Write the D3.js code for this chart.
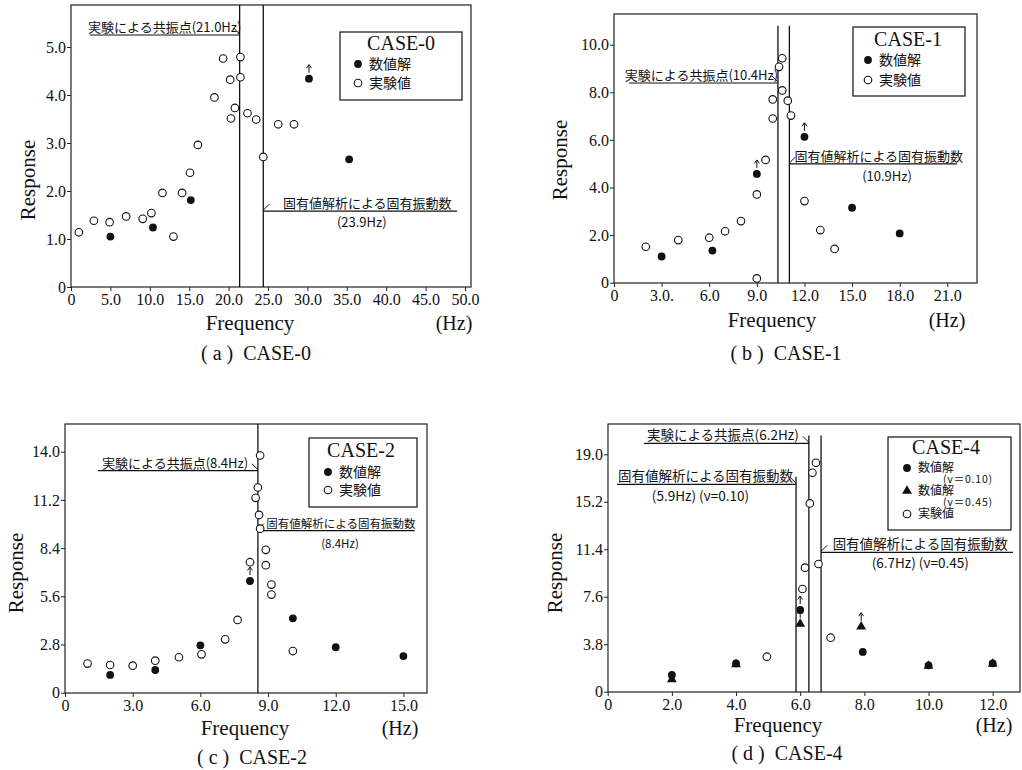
<!DOCTYPE html>
<html lang="ja">
<head>
<meta charset="UTF-8">
<title>Response vs Frequency (CASE-0/1/2/4)</title>
<script src="https://d3js.org/d3.v7.min.js"></script>
<style>
  body { margin: 0; background: #fff; }
  svg { display: block; }
  .lab { font-family: "Liberation Serif", "DejaVu Serif", serif; fill: #111; }
  .jp { font-family: "Noto Sans CJK JP", sans-serif; fill: #111; }
  .domain { display: none; }
  .tick line { stroke: #222; }
</style>
</head>
<body>
<script>
// ---- CASE-0 ----
const xTicksA = [0, 5, 10, 15, 20, 25, 30, 35, 40, 45, 50];
const xTickLabelsA = ["0", "5.0", "10.0", "15.0", "20.0", "25.0", "30.0", "35.0", "40.0", "45.0", "50.0"];
const yTicksA = [0, 1, 2, 3, 4, 5];
const yTickLabelsA = ["0", "1.0", "2.0", "3.0", "4.0", "5.0"];
const numFreqA = [5.0, 10.4, 15.2, 30.2, 35.3];
const numRespA = [1.05, 1.24, 1.81, 4.34, 2.66];
const numArrowA = [0, 0, 0, 1, 0];
const expFreqA = [1.0, 2.9, 4.9, 7.0, 9.1, 10.2, 11.6, 13.0, 14.1, 15.1, 16.1, 18.2, 19.3, 20.2, 20.3, 20.8, 21.5, 21.5, 22.4, 23.5, 24.4, 26.3, 28.3];
const expRespA = [1.14, 1.38, 1.35, 1.47, 1.42, 1.54, 1.96, 1.05, 1.96, 2.38, 2.96, 3.95, 4.76, 4.32, 3.51, 3.73, 4.79, 4.37, 3.62, 3.49, 2.71, 3.39, 3.39];
const linesA = [21.4, 24.4];

// ---- CASE-1 ----
const xTicksB = [0, 3, 6, 9, 12, 15, 18, 21];
const xTickLabelsB = ["0", "3.0.", "6.0", "9.0", "12.0", "15.0", "18.0", "21.0"];
const yTicksB = [0, 2, 4, 6, 8, 10];
const yTickLabelsB = ["0", "2.0", "4.0", "6.0", "8.0", "10.0"];
const numFreqB = [3.0, 6.2, 9.0, 12.0, 15.0, 18.0];
const numRespB = [1.1, 1.35, 4.57, 6.13, 3.15, 2.07];
const numArrowB = [0, 0, 1, 1, 0, 0];
const expFreqB = [2.0, 4.05, 6.0, 7.0, 8.0, 9.0, 9.0, 9.55, 10.0, 10.0, 10.4, 10.6, 10.6, 10.95, 11.15, 12.0, 13.0, 13.9];
const expRespB = [1.51, 1.79, 1.89, 2.16, 2.59, 3.71, 0.18, 5.16, 6.9, 7.7, 9.07, 9.43, 8.08, 7.65, 7.02, 3.43, 2.21, 1.42];
const linesB = [10.33, 11.05];

// ---- CASE-2 ----
const xTicksC = [0, 3, 6, 9, 12, 15];
const xTickLabelsC = ["0", "3.0", "6.0", "9.0", "12.0", "15.0"];
const yTicksC = [0, 2.8, 5.6, 8.4, 11.2, 14.0];
const yTickLabelsC = ["0", "2.8", "5.6", "8.4", "11.2", "14.0"];
const numFreqC = [2.0, 4.0, 6.0, 8.2, 10.1, 12.0, 15.0];
const numRespC = [1.03, 1.32, 2.75, 6.49, 4.32, 2.64, 2.13];
const numArrowC = [0, 0, 0, 1, 0, 0, 0];
const expFreqC = [1.0, 2.0, 3.0, 4.0, 5.05, 6.05, 7.1, 7.65, 8.2, 8.45, 8.55, 8.65, 8.6, 8.65, 8.9, 8.9, 9.15, 9.15, 10.1];
const expRespC = [1.69, 1.61, 1.57, 1.86, 2.06, 2.23, 3.1, 4.23, 7.58, 11.32, 11.92, 13.78, 10.33, 9.53, 8.3, 7.41, 6.28, 5.70, 2.42];
const linesC = [8.55];

// ---- CASE-4 ----
const xTicksD = [0, 2, 4, 6, 8, 10, 12];
const xTickLabelsD = ["0", "2.0", "4.0", "6.0", "8.0", "10.0", "12.0"];
const yTicksD = [0, 3.8, 7.6, 11.4, 15.2, 19.0];
const yTickLabelsD = ["0", "3.8", "7.6", "11.4", "15.2", "19.0"];
const num10FreqD = [2.0, 4.0, 6.0, 7.95, 10.0, 12.0];
const num10RespD = [1.34, 2.27, 6.54, 3.18, 2.11, 2.27];
const num10ArrowD = [0, 0, 1, 0, 0, 0];
const num45FreqD = [2.0, 4.0, 6.0, 7.9, 10.0, 12.0];
const num45RespD = [0.99, 2.19, 5.42, 5.2, 2.06, 2.22];
const num45ArrowD = [0, 0, 1, 1, 0, 0];
const expFreqD = [4.96, 6.07, 6.15, 6.3, 6.38, 6.49, 6.57, 6.95];
const expRespD = [2.8, 8.22, 9.93, 15.07, 17.52, 18.32, 10.22, 4.32];
const linesD = [5.87, 6.27, 6.65];
const lineTopsD = [17.2, 20.5, 20.5];

const svg = d3.select("body").append("svg")
    .attr("width", 1022)
    .attr("height", 770);

const zip = (xs, ys, ar) => xs.map((f, i) => ({f, r: ys[i], up: ar ? ar[i] : 0}));

// panel layouts (pixels) + content
const panels = [
  {
    xr: [71, 465], xd: [0, 50], yr: [287, 47], yd: [0, 5],
    frame: {l: 71, r: 471, t: 5, b: 287},
    xTicks: xTicksA, xLabels: xTickLabelsA, yTicks: yTicksA, yLabels: yTickLabelsA,
    lines: linesA, lineTops: null,
    series: [
      {type: "open", pts: zip(expFreqA, expRespA)},
      {type: "filled", pts: zip(numFreqA, numRespA, numArrowA)}
    ],
    notes: [
      {uy: 5.25, x1: 2.4, x2: 21.4, barb: "x2", lines: [{t: "実験による共振点(21.0Hz)", x: 11.9, dy: -3}]},
      {uy: 1.58, x1: 24.4, x2: 49.0, barb: "x1", lines: [{t: "固有値解析による固有振動数", x: 37.6, dy: -3}, {t: "(23.9Hz)", x: 36.9, dy: 16}]}
    ],
    legend: {x: 340, y: 32, w: 122, h: 68, title: "CASE-0", tx: 401, ty: 50, fs: 14,
      items: [{sym: "filled", cx: 358, cy: 64, label: "数値解"}, {sym: "open", cx: 358, cy: 83, label: "実験値"}]},
    xLab: {x: 250, y: 330}, hz: {x: 454, y: 330}, yLab: {x: 28, y: 180},
    caption: {t: "( a )  CASE-0", x: 256, y: 360}
  },
  {
    xr: [614, 947.3], xd: [0, 21], yr: [282.7, 44.7], yd: [0, 10],
    frame: {l: 614, r: 977, t: 14, b: 283},
    xTicks: xTicksB, xLabels: xTickLabelsB, yTicks: yTicksB, yLabels: yTickLabelsB,
    lines: linesB, lineTops: [10.8, 10.8],
    series: [
      {type: "open", pts: zip(expFreqB, expRespB)},
      {type: "filled", pts: zip(numFreqB, numRespB, numArrowB)}
    ],
    notes: [
      {uy: 8.39, x1: 0.95, x2: 10.33, barb: "x2", lines: [{t: "実験による共振点(10.4Hz)", x: 5.51, dy: -3}]},
      {uy: 4.99, x1: 11.05, x2: 21.6, barb: "x1", lines: [{t: "固有値解析による固有振動数", x: 16.68, dy: -3}, {t: "(10.9Hz)", x: 17.2, dy: 17}]}
    ],
    legend: {x: 853, y: 27, w: 112, h: 69, title: "CASE-1", tx: 908, ty: 46, fs: 14,
      items: [{sym: "filled", cx: 868, cy: 60, label: "数値解"}, {sym: "open", cx: 868, cy: 80, label: "実験値"}]},
    xLab: {x: 772, y: 327}, hz: {x: 947, y: 327}, yLab: {x: 560, y: 160},
    caption: {t: "( b )  CASE-1", x: 786, y: 360}
  },
  {
    xr: [65, 403.4], xd: [0, 15], yr: [692.7, 451.7], yd: [0, 14],
    frame: {l: 65, r: 427, t: 424, b: 693},
    xTicks: xTicksC, xLabels: xTickLabelsC, yTicks: yTicksC, yLabels: yTickLabelsC,
    lines: linesC, lineTops: null,
    series: [
      {type: "open", pts: zip(expFreqC, expRespC)},
      {type: "filled", pts: zip(numFreqC, numRespC, numArrowC)}
    ],
    notes: [
      {uy: 12.9, x1: 1.46, x2: 8.55, barb: "x2", lines: [{t: "実験による共振点(8.4Hz)", x: 4.88, dy: -3}]},
      {uy: 9.42, x1: 8.55, x2: 15.5, barb: "x1", fs: 11.5, lines: [{t: "固有値解析による固有振動数", x: 12.23, dy: -3}, {t: "(8.4Hz)", x: 12.19, dy: 17}]}
    ],
    legend: {x: 309, y: 438, w: 108, h: 69, title: "CASE-2", tx: 361, ty: 457, fs: 14,
      items: [{sym: "filled", cx: 328, cy: 472, label: "数値解"}, {sym: "open", cx: 328, cy: 490, label: "実験値"}]},
    xLab: {x: 245, y: 735}, hz: {x: 400, y: 735}, yLab: {x: 16, y: 573},
    caption: {t: "( c )  CASE-2", x: 252, y: 764}
  },
  {
    xr: [607.7, 992.7], xd: [0, 12], yr: [691.7, 454.3], yd: [0, 19],
    frame: {l: 608, r: 1020, t: 424, b: 692},
    xTicks: xTicksD, xLabels: xTickLabelsD, yTicks: yTicksD, yLabels: yTickLabelsD,
    lines: linesD, lineTops: lineTopsD,
    series: [
      {type: "open", pts: zip(expFreqD, expRespD)},
      {type: "tri", pts: zip(num45FreqD, num45RespD, num45ArrowD)},
      {type: "filled", pts: zip(num10FreqD, num10RespD, num10ArrowD)}
    ],
    notes: [
      {uy: 19.87, x1: 1.13, x2: 6.27, barb: "x2", fs: 13.5, lines: [{t: "実験による共振点(6.2Hz)", x: 3.59, dy: -3}]},
      {uy: 16.6, x1: 0.29, x2: 5.87, barb: "x2", fs: 13.5, lines: [{t: "固有値解析による固有振動数", x: 3.05, dy: -3}, {t: "(5.9Hz) (ν=0.10)", x: 2.89, dy: 17}]},
      {uy: 11.15, x1: 6.65, x2: 12.63, barb: "x1", fs: 13.5, lines: [{t: "固有値解析による固有振動数", x: 9.74, dy: -3}, {t: "(6.7Hz) (ν=0.45)", x: 9.74, dy: 16}]}
    ],
    legend: {x: 888, y: 437, w: 123, h: 93, title: "CASE-4", tx: 946, ty: 454, fs: 12, subFs: 10.5,
      items: [
        {sym: "filled", cx: 907, cy: 468, label: "数値解", sub: "(ν＝0.10)"},
        {sym: "tri", cx: 907, cy: 491, label: "数値解", sub: "(ν＝0.45)"},
        {sym: "open", cx: 907, cy: 514, label: "実験値"}
      ]},
    xLab: {x: 778, y: 732}, hz: {x: 994, y: 732}, yLab: {x: 555, y: 573},
    caption: {t: "( d )  CASE-4", x: 787, y: 760}
  }
];

function drawMark(g, type, x, y) {
  if (type === "open") {
    g.append("circle").attr("cx", x).attr("cy", y).attr("r", 3.8)
      .attr("fill", "#fff").attr("stroke", "#111").attr("stroke-width", 1.1);
  } else if (type === "filled") {
    g.append("circle").attr("cx", x).attr("cy", y).attr("r", 3.9).attr("fill", "#111");
  } else {
    g.append("path").attr("d", d3.symbol(d3.symbolTriangle, 42)())
      .attr("transform", `translate(${x},${y})`).attr("fill", "#111");
  }
}

function drawPanel(p) {
  const g = svg.append("g");
  const x = d3.scaleLinear().domain(p.xd).range(p.xr);
  const y = d3.scaleLinear().domain(p.yd).range(p.yr);
  const f = p.frame;

  // axes
  g.append("g")
    .attr("transform", `translate(0,${f.b})`)
    .call(d3.axisBottom(x).tickValues(p.xTicks).tickFormat((d, i) => p.xLabels[i]).tickSize(4).tickPadding(3))
    .selectAll("text").attr("class", "lab").style("font-size", "16px");
  g.append("g")
    .attr("transform", `translate(${f.l},0)`)
    .call(d3.axisLeft(y).tickValues(p.yTicks).tickFormat((d, i) => p.yLabels[i]).tickSize(4).tickPadding(1))
    .selectAll("text").attr("class", "lab").style("font-size", "16px");

  g.append("rect")
    .attr("x", f.l).attr("y", f.t)
    .attr("width", f.r - f.l).attr("height", f.b - f.t)
    .attr("fill", "none").attr("stroke", "#222").attr("stroke-width", 1.2);

  // vertical resonance lines
  p.lines.forEach((v, i) => {
    const top = p.lineTops ? y(p.lineTops[i]) : f.t;
    g.append("line")
      .attr("x1", x(v)).attr("x2", x(v))
      .attr("y1", top).attr("y2", f.b)
      .attr("stroke", "#111").attr("stroke-width", 1.3);
  });

  // annotations
  p.notes.forEach(n => {
    const uy = y(n.uy);
    g.append("line")
      .attr("x1", x(n.x1)).attr("x2", x(n.x2))
      .attr("y1", uy).attr("y2", uy)
      .attr("stroke", "#111").attr("stroke-width", 1.2);
    const bx = x(n[n.barb]);
    const dir = n.barb === "x2" ? -1 : 1;
    g.append("path")
      .attr("d", `M${bx + dir * 6},${uy - 7} L${bx},${uy - 1}`)
      .attr("fill", "none").attr("stroke", "#111").attr("stroke-width", 1);
    n.lines.forEach(l => {
      g.append("text").attr("class", "jp")
        .attr("x", x(l.x)).attr("y", uy + l.dy)
        .attr("text-anchor", "middle")
        .style("font-size", (n.fs || 13) + "px")
        .text(l.t);
    });
  });

  // data marks
  p.series.forEach(s => {
    s.pts.forEach(d => {
      const px = x(d.f), py = y(d.r);
      drawMark(g, s.type, px, py);
      if (d.up) {
        g.append("path")
          .attr("d", `M${px},${py - 6} L${px},${py - 14} M${px - 2.5},${py - 10.5} L${px},${py - 14} L${px + 2.5},${py - 10.5}`)
          .attr("fill", "none").attr("stroke", "#111").attr("stroke-width", 1);
      }
    });
  });

  // legend
  const L = p.legend;
  g.append("rect")
    .attr("x", L.x).attr("y", L.y).attr("width", L.w).attr("height", L.h)
    .attr("fill", "#fff").attr("stroke", "#222").attr("stroke-width", 1.3);
  g.append("text").attr("class", "lab")
    .attr("x", L.tx).attr("y", L.ty).attr("text-anchor", "middle")
    .style("font-size", "20px").text(L.title);
  L.items.forEach(it => {
    drawMark(g, it.sym, it.cx, it.cy);
    g.append("text").attr("class", "jp")
      .attr("x", it.cx + 11).attr("y", it.cy + L.fs * 0.36)
      .style("font-size", L.fs + "px").text(it.label);
    if (it.sub) {
      g.append("text").attr("class", "jp")
        .attr("x", it.cx + 36).attr("y", it.cy + 15)
        .style("font-size", L.subFs + "px").style("letter-spacing", "0.8px").text(it.sub);
    }
  });

  // axis titles
  g.append("text").attr("class", "lab")
    .attr("x", p.xLab.x).attr("y", p.xLab.y).attr("text-anchor", "middle")
    .style("font-size", "21px").text("Frequency");
  g.append("text").attr("class", "lab")
    .attr("x", p.hz.x).attr("y", p.hz.y).attr("text-anchor", "middle")
    .style("font-size", "20px").text("(Hz)");
  g.append("text").attr("class", "lab")
    .attr("transform", `translate(${p.yLab.x},${p.yLab.y}) rotate(-90)`)
    .attr("text-anchor", "middle").attr("dy", "0.35em")
    .style("font-size", "21px").text("Response");
  g.append("text").attr("class", "lab")
    .attr("x", p.caption.x).attr("y", p.caption.y).attr("text-anchor", "middle")
    .style("font-size", "20px").style("white-space", "pre").text(p.caption.t);
}

panels.forEach(drawPanel);
</script>
</body>
</html>
